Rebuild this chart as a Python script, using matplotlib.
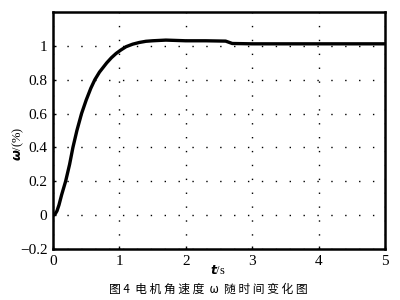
import numpy as np
import matplotlib.pyplot as plt

# motor angular speed step response
t = [0, 0.03, 0.06, 0.09, 0.13, 0.19, 0.25, 0.30, 0.36, 0.43, 0.50, 0.57, 0.63, 0.70, 0.76,
     0.81, 0.88, 0.95, 1.02, 1.1, 1.2, 1.3, 1.4, 1.5, 1.7, 2.0, 2.3, 2.6, 2.7, 3.0, 4.0, 5.0]
w = [0, 0.005, 0.025, 0.06, 0.12, 0.2, 0.3, 0.4, 0.5, 0.6, 0.68, 0.75, 0.8, 0.845, 0.875,
     0.9, 0.93, 0.955, 0.975, 0.995, 1.01, 1.02, 1.027, 1.03, 1.034, 1.03, 1.03, 1.028, 1.014, 1.012, 1.012, 1.012]

xticks = [0, 1, 2, 3, 4, 5]
yticks = [-0.2, 0, 0.2, 0.4, 0.6, 0.8, 1]
ylabels = ['\u22120.2', '0', '0.2', '0.4', '0.6', '0.8', '1']

serif = 'Liberation Serif'
cjk = ['Noto Sans CJK SC', 'DejaVu Sans']

fig = plt.figure(figsize=(4, 3), dpi=100)
ax = fig.add_axes([0.1325, 0.17, 0.83, 0.79])

ax.plot(t, w, color='black', linewidth=2.4)

ax.set_xlim(0, 5)
ax.set_ylim(-0.2, 1.2)
ax.set_xticks(xticks)
ax.set_xticklabels([str(v) for v in xticks], family=serif, fontsize=11)
ax.set_yticks(yticks)
ax.set_yticklabels(ylabels, family=serif, fontsize=11)
ax.tick_params(direction='in', length=2, width=1, pad=4)

ax.grid(True, color='black', linestyle=(0, (1, 9)), linewidth=1.0)
for s in ax.spines.values():
    s.set_linewidth(1.8)

fig.text(0.045, 0.52, r'$\boldsymbol{\omega}$/(%)', rotation=90, ha='center', va='center',
         family=serif, fontsize=9)
fig.text(0.545, 0.1, r'$\boldsymbol{t}$/s', ha='center', va='center', family=serif, fontsize=9)
fig.text(0.522, 0.035, '图 4  电 机 角 速 度  ω  随 时 间 变 化 图', ha='center', va='center',
         family=cjk, fontsize=8.5)

fig.savefig('out.png', dpi=100)
